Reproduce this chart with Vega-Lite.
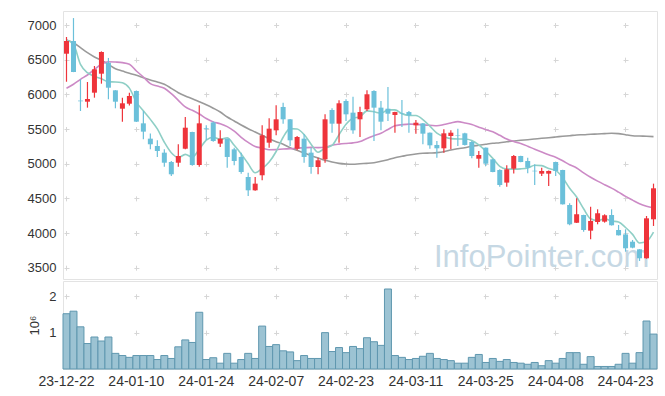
{
"$schema":"https://vega.github.io/schema/vega-lite/v6.json",
"padding":{"left":26,"top":10,"right":9,"bottom":0},
"background":"white",
"spacing":0,
"config":{"view":{"stroke":"#e3e3e3"},"concat":{"spacing":0},"axis":{"labelFont":"Liberation Sans","labelFontSize":13,"labelColor":"#333","domain":false,"ticks":false,"labelOverlap":false,"gridColor":"#d6d6d6","titleFont":"Liberation Sans","titleFontSize":13,"titleFontWeight":"normal","titleColor":"#333"},"axisY":{"labelOverlap":false},"axisQuantitative":{"labelOverlap":false}},
"data":{"values":[
{"d":"23-12-22","o":6586,"h":6827,"l":6182,"c":6769,"vol":1.52,"ma5":6784,"ma20":6087,"ma120":6784},
{"d":"23-12-26","o":6769,"h":7100,"l":6320,"c":6322,"vol":1.59,"ma5":6721,"ma20":6145,"ma120":6745},
{"d":"23-12-27","o":5910,"h":6217,"l":5760,"c":5900,"vol":1.16,"ma5":6433,"ma20":6217,"ma120":6673},
{"d":"23-12-28","o":5894,"h":6178,"l":5808,"c":5933,"vol":0.70,"ma5":6312,"ma20":6279,"ma120":6601},
{"d":"24-01-02","o":6024,"h":6409,"l":5952,"c":6361,"vol":0.88,"ma5":6257,"ma20":6361,"ma120":6539},
{"d":"24-01-03","o":6298,"h":6620,"l":6154,"c":6611,"vol":0.77,"ma5":6225,"ma20":6433,"ma120":6491},
{"d":"24-01-04","o":6457,"h":6525,"l":5929,"c":6096,"vol":0.88,"ma5":6180,"ma20":6471,"ma120":6433},
{"d":"24-01-05","o":6058,"h":6060,"l":5799,"c":5894,"vol":0.43,"ma5":6179,"ma20":6466,"ma120":6370},
{"d":"24-01-08","o":5793,"h":5950,"l":5606,"c":5871,"vol":0.37,"ma5":6167,"ma20":6457,"ma120":6337},
{"d":"24-01-09","o":5865,"h":6024,"l":5840,"c":5976,"vol":0.32,"ma5":6090,"ma20":6433,"ma120":6303},
{"d":"24-01-10","o":6048,"h":6055,"l":5600,"c":5606,"vol":0.37,"ma5":5889,"ma20":6337,"ma120":6275},
{"d":"24-01-11","o":5582,"h":5760,"l":5352,"c":5462,"vol":0.37,"ma5":5762,"ma20":6250,"ma120":6240},
{"d":"24-01-12","o":5361,"h":5435,"l":5207,"c":5280,"vol":0.37,"ma5":5639,"ma20":6154,"ma120":6207},
{"d":"24-01-15","o":5255,"h":5337,"l":5097,"c":5183,"vol":0.26,"ma5":5501,"ma20":6120,"ma120":6178},
{"d":"24-01-16","o":5159,"h":5207,"l":4957,"c":5014,"vol":0.37,"ma5":5309,"ma20":6087,"ma120":6145},
{"d":"24-01-17","o":5024,"h":5039,"l":4823,"c":4847,"vol":0.29,"ma5":5157,"ma20":6009,"ma120":6087},
{"d":"24-01-18","o":5014,"h":5280,"l":4957,"c":5111,"vol":0.61,"ma5":5087,"ma20":5914,"ma120":6024},
{"d":"24-01-19","o":5216,"h":5673,"l":5210,"c":5519,"vol":0.80,"ma5":5135,"ma20":5818,"ma120":5976},
{"d":"24-01-22","o":5457,"h":5460,"l":4970,"c":4981,"vol":0.73,"ma5":5094,"ma20":5770,"ma120":5937},
{"d":"24-01-23","o":4981,"h":5842,"l":4957,"c":5582,"vol":1.56,"ma5":5208,"ma20":5716,"ma120":5894},
{"d":"24-01-24","o":5510,"h":5555,"l":5340,"c":5500,"vol":0.26,"ma5":5339,"ma20":5652,"ma120":5850},
{"d":"24-01-25","o":5595,"h":5610,"l":5315,"c":5327,"vol":0.31,"ma5":5382,"ma20":5603,"ma120":5800},
{"d":"24-01-26","o":5289,"h":5481,"l":5240,"c":5361,"vol":0.16,"ma5":5350,"ma20":5576,"ma120":5745},
{"d":"24-01-29","o":5361,"h":5365,"l":4942,"c":5097,"vol":0.43,"ma5":5373,"ma20":5534,"ma120":5673},
{"d":"24-01-30","o":5207,"h":5231,"l":4977,"c":5039,"vol":0.16,"ma5":5265,"ma20":5468,"ma120":5616},
{"d":"24-01-31","o":5097,"h":5159,"l":4856,"c":4880,"vol":0.26,"ma5":5141,"ma20":5381,"ma120":5558},
{"d":"24-02-01","o":4808,"h":4870,"l":4534,"c":4616,"vol":0.43,"ma5":4999,"ma20":5307,"ma120":5505},
{"d":"24-02-02","o":4616,"h":4808,"l":4610,"c":4712,"vol":0.29,"ma5":4869,"ma20":5248,"ma120":5457},
{"d":"24-02-05","o":4833,"h":5553,"l":4760,"c":5409,"vol":1.18,"ma5":4931,"ma20":5225,"ma120":5409},
{"d":"24-02-06","o":5303,"h":5654,"l":5231,"c":5505,"vol":0.62,"ma5":5024,"ma20":5202,"ma120":5361},
{"d":"24-02-07","o":5481,"h":5842,"l":5409,"c":5640,"vol":0.67,"ma5":5176,"ma20":5203,"ma120":5317},
{"d":"24-02-08","o":5818,"h":5880,"l":5577,"c":5640,"vol":0.50,"ma5":5381,"ma20":5212,"ma120":5280},
{"d":"24-02-13","o":5640,"h":5645,"l":5255,"c":5337,"vol":0.47,"ma5":5506,"ma20":5215,"ma120":5231},
{"d":"24-02-14","o":5216,"h":5400,"l":5193,"c":5385,"vol":0.23,"ma5":5501,"ma20":5225,"ma120":5193},
{"d":"24-02-15","o":5361,"h":5424,"l":5014,"c":5097,"vol":0.37,"ma5":5420,"ma20":5229,"ma120":5154},
{"d":"24-02-16","o":5159,"h":5231,"l":4856,"c":4952,"vol":0.29,"ma5":5282,"ma20":5235,"ma120":5116},
{"d":"24-02-19","o":4952,"h":5087,"l":4847,"c":5049,"vol":0.29,"ma5":5164,"ma20":5231,"ma120":5082},
{"d":"24-02-20","o":5063,"h":5712,"l":5014,"c":5640,"vol":1.00,"ma5":5225,"ma20":5237,"ma120":5049},
{"d":"24-02-21","o":5774,"h":5799,"l":5447,"c":5577,"vol":0.48,"ma5":5263,"ma20":5267,"ma120":5024},
{"d":"24-02-22","o":5577,"h":5914,"l":5303,"c":5871,"vol":0.59,"ma5":5418,"ma20":5282,"ma120":5005},
{"d":"24-02-23","o":5904,"h":5929,"l":5616,"c":5712,"vol":0.45,"ma5":5570,"ma20":5292,"ma120":4995},
{"d":"24-02-26","o":5736,"h":5966,"l":5433,"c":5481,"vol":0.62,"ma5":5656,"ma20":5300,"ma120":4991},
{"d":"24-02-27","o":5640,"h":5822,"l":5385,"c":5745,"vol":0.56,"ma5":5677,"ma20":5319,"ma120":5000},
{"d":"24-02-28","o":5784,"h":6058,"l":5760,"c":6001,"vol":0.86,"ma5":5762,"ma20":5364,"ma120":5005},
{"d":"24-02-29","o":6048,"h":6058,"l":5327,"c":5808,"vol":0.75,"ma5":5749,"ma20":5403,"ma120":5014},
{"d":"24-03-04","o":5808,"h":5904,"l":5481,"c":5606,"vol":0.65,"ma5":5728,"ma20":5439,"ma120":5034},
{"d":"24-03-05","o":5793,"h":6106,"l":5616,"c":5721,"vol":2.20,"ma5":5776,"ma20":5494,"ma120":5058},
{"d":"24-03-06","o":5702,"h":5750,"l":5447,"c":5745,"vol":0.37,"ma5":5776,"ma20":5546,"ma120":5087},
{"d":"24-03-07","o":5725,"h":5918,"l":5529,"c":5718,"vol":0.32,"ma5":5720,"ma20":5562,"ma120":5106},
{"d":"24-03-08","o":5745,"h":5760,"l":5447,"c":5697,"vol":0.26,"ma5":5697,"ma20":5571,"ma120":5125},
{"d":"24-03-11","o":5553,"h":5630,"l":5433,"c":5591,"vol":0.29,"ma5":5694,"ma20":5569,"ma120":5140},
{"d":"24-03-12","o":5582,"h":5585,"l":5280,"c":5433,"vol":0.35,"ma5":5637,"ma20":5558,"ma120":5150},
{"d":"24-03-13","o":5447,"h":5450,"l":5216,"c":5265,"vol":0.43,"ma5":5541,"ma20":5555,"ma120":5154},
{"d":"24-03-14","o":5270,"h":5327,"l":5087,"c":5222,"vol":0.29,"ma5":5442,"ma20":5547,"ma120":5159},
{"d":"24-03-15","o":5222,"h":5496,"l":5159,"c":5438,"vol":0.26,"ma5":5390,"ma20":5564,"ma120":5173},
{"d":"24-03-18","o":5399,"h":5481,"l":5207,"c":5447,"vol":0.23,"ma5":5361,"ma20":5588,"ma120":5198},
{"d":"24-03-19","o":5412,"h":5505,"l":5255,"c":5405,"vol":0.16,"ma5":5355,"ma20":5606,"ma120":5216},
{"d":"24-03-20","o":5438,"h":5445,"l":5262,"c":5270,"vol":0.16,"ma5":5356,"ma20":5588,"ma120":5231},
{"d":"24-03-21","o":5313,"h":5327,"l":5078,"c":5111,"vol":0.32,"ma5":5334,"ma20":5564,"ma120":5251},
{"d":"24-03-22","o":5072,"h":5183,"l":4942,"c":5125,"vol":0.40,"ma5":5272,"ma20":5527,"ma120":5265},
{"d":"24-03-25","o":5231,"h":5235,"l":4967,"c":5000,"vol":0.18,"ma5":5182,"ma20":5491,"ma120":5280},
{"d":"24-03-26","o":5063,"h":5068,"l":4875,"c":4880,"vol":0.29,"ma5":5077,"ma20":5461,"ma120":5294},
{"d":"24-03-27","o":4909,"h":4919,"l":4668,"c":4693,"vol":0.21,"ma5":4962,"ma20":5409,"ma120":5303},
{"d":"24-03-28","o":4727,"h":4977,"l":4668,"c":4919,"vol":0.26,"ma5":4923,"ma20":5355,"ma120":5317},
{"d":"24-03-29","o":4928,"h":5125,"l":4860,"c":5111,"vol":0.18,"ma5":4921,"ma20":5320,"ma120":5327},
{"d":"24-04-01","o":5111,"h":5115,"l":5020,"c":5024,"vol":0.16,"ma5":4925,"ma20":5291,"ma120":5337},
{"d":"24-04-02","o":5039,"h":5087,"l":4861,"c":4942,"vol":0.13,"ma5":4938,"ma20":5252,"ma120":5346},
{"d":"24-04-03","o":4898,"h":4991,"l":4693,"c":4890,"vol":0.18,"ma5":4977,"ma20":5209,"ma120":5356},
{"d":"24-04-04","o":4856,"h":4942,"l":4823,"c":4895,"vol":0.09,"ma5":4972,"ma20":5168,"ma120":5366},
{"d":"24-04-05","o":4856,"h":4900,"l":4678,"c":4895,"vol":0.23,"ma5":4929,"ma20":5128,"ma120":5375},
{"d":"24-04-08","o":5024,"h":5028,"l":4823,"c":4895,"vol":0.16,"ma5":4903,"ma20":5093,"ma120":5385},
{"d":"24-04-09","o":4909,"h":4912,"l":4410,"c":4414,"vol":0.29,"ma5":4798,"ma20":5042,"ma120":5395},
{"d":"24-04-11","o":4404,"h":4429,"l":4112,"c":4126,"vol":0.45,"ma5":4645,"ma20":4985,"ma120":5404},
{"d":"24-04-12","o":4150,"h":4501,"l":4145,"c":4270,"vol":0.45,"ma5":4520,"ma20":4938,"ma120":5414},
{"d":"24-04-15","o":4260,"h":4262,"l":4020,"c":4044,"vol":0.13,"ma5":4350,"ma20":4868,"ma120":5418},
{"d":"24-04-16","o":4034,"h":4380,"l":3910,"c":4174,"vol":0.34,"ma5":4206,"ma20":4804,"ma120":5424},
{"d":"24-04-17","o":4159,"h":4342,"l":4126,"c":4285,"vol":0.07,"ma5":4180,"ma20":4748,"ma120":5428},
{"d":"24-04-18","o":4164,"h":4270,"l":4150,"c":4256,"vol":0.07,"ma5":4206,"ma20":4697,"ma120":5433},
{"d":"24-04-19","o":4260,"h":4342,"l":4108,"c":4112,"vol":0.07,"ma5":4174,"ma20":4648,"ma120":5438},
{"d":"24-04-22","o":4044,"h":4116,"l":3965,"c":3967,"vol":0.13,"ma5":4159,"ma20":4590,"ma120":5433},
{"d":"24-04-23","o":3980,"h":4054,"l":3731,"c":3780,"vol":0.43,"ma5":4080,"ma20":4529,"ma120":5418},
{"d":"24-04-24","o":3875,"h":3900,"l":3780,"c":3789,"vol":0.16,"ma5":3981,"ma20":4474,"ma120":5404},
{"d":"24-04-25","o":3765,"h":3767,"l":3597,"c":3636,"vol":0.45,"ma5":3857,"ma20":4421,"ma120":5399},
{"d":"24-04-26","o":3636,"h":4246,"l":3630,"c":4212,"vol":1.32,"ma5":3877,"ma20":4386,"ma120":5395},
{"d":"24-04-29","o":4198,"h":4712,"l":4102,"c":4645,"vol":0.96,"ma5":4012,"ma20":4363,"ma120":5390}
]},
"vconcat":[
{
"width":594,"height":268,
"encoding":{"x":{"field":"d","type":"ordinal","scale":{"paddingInner":0,"paddingOuter":0},"axis":{"values":["23-12-22","24-01-10","24-01-24","24-02-07","24-02-23","24-03-11","24-03-25","24-04-08","24-04-23"],"labels":false,"title":null,"grid":true,"gridDash":[5,29.67],"gridDashOffset":23.17}}},
"layer":[
{"mark":{"type":"line","interpolate":"monotone","color":"#9a9a9a","strokeWidth":1.6},"encoding":{"y":{"field":"ma120","type":"quantitative","scale":{"domain":[3337,7202],"nice":false,"zero":false},"axis":{"values":[3500,4000,4500,5000,5500,6000,6500,7000],"format":"d","labelOverlap":false,"title":null,"labelPadding":7,"minExtent":36,"maxExtent":36,"grid":true,"gridDash":[5,64.88],"gridDashOffset":68.88}}}},
{"data":{"values":[{"t":"InfoPointer.com"}]},"mark":{"type":"text","font":"Liberation Sans","fontSize":31,"color":"#c6d8e4","align":"center","baseline":"alphabetic"},"encoding":{"x":{"datum":"24-04-04"},"y":{"datum":3505,"type":"quantitative","axis":{"values":[3500,4000,4500,5000,5500,6000,6500,7000],"format":"d","labelOverlap":false,"title":null,"labelPadding":7,"minExtent":36,"maxExtent":36,"grid":true,"gridDash":[5,64.88],"gridDashOffset":68.88}},"text":{"field":"t"}}},
{"mark":{"type":"line","interpolate":"monotone","color":"#cc8ac6","strokeWidth":1.6},"encoding":{"y":{"field":"ma20","type":"quantitative","axis":{"values":[3500,4000,4500,5000,5500,6000,6500,7000],"format":"d","labelOverlap":false,"title":null,"labelPadding":7,"minExtent":36,"maxExtent":36,"grid":true,"gridDash":[5,64.88],"gridDashOffset":68.88}}}},
{"mark":{"type":"line","interpolate":"monotone","color":"#8fcfc6","strokeWidth":1.6},"encoding":{"y":{"field":"ma5","type":"quantitative","axis":{"values":[3500,4000,4500,5000,5500,6000,6500,7000],"format":"d","labelOverlap":false,"title":null,"labelPadding":7,"minExtent":36,"maxExtent":36,"grid":true,"gridDash":[5,64.88],"gridDashOffset":68.88}}}},
{"mark":{"type":"rule","strokeWidth":1.2},"encoding":{"y":{"field":"l","type":"quantitative","axis":{"values":[3500,4000,4500,5000,5500,6000,6500,7000],"format":"d","labelOverlap":false,"title":null,"labelPadding":7,"minExtent":36,"maxExtent":36,"grid":true,"gridDash":[5,64.88],"gridDashOffset":68.88}},"y2":{"field":"h"},"color":{"condition":{"test":"datum.c >= datum.o","value":"#ee343b"},"value":"#6bc0da"}}},
{"mark":{"type":"bar","size":5},"encoding":{"y":{"field":"o","type":"quantitative","axis":{"values":[3500,4000,4500,5000,5500,6000,6500,7000],"format":"d","labelOverlap":false,"title":null,"labelPadding":7,"minExtent":36,"maxExtent":36,"grid":true,"gridDash":[5,64.88],"gridDashOffset":68.88}},"y2":{"field":"c"},"color":{"condition":{"test":"datum.c >= datum.o","value":"#ee343b"},"value":"#6bc0da"}}}
]
},
{
"width":594,"height":88,
"mark":{"type":"bar","fill":"#9cc3d3","stroke":"#5f97af","strokeWidth":1},
"encoding":{
"x":{"field":"d","type":"ordinal","scale":{"paddingInner":0,"paddingOuter":0},"axis":{"values":["23-12-22","24-01-10","24-01-24","24-02-07","24-02-23","24-03-11","24-03-25","24-04-08","24-04-23"],"labelAngle":0,"labelFontSize":14,"title":null,"labelPadding":5,"grid":true,"gridDash":[5,31.36],"gridDashOffset":23.59}},
"y":{"field":"vol","type":"quantitative","scale":{"domain":[0,2.42],"nice":false},"axis":{"values":[1,2],"format":"d","labelOverlap":false,"title":"10⁶","titlePadding":8,"labelPadding":7,"minExtent":14,"maxExtent":14,"grid":true,"gridDash":[5,64.88],"gridDashOffset":68.88}}
}
}
]
}
